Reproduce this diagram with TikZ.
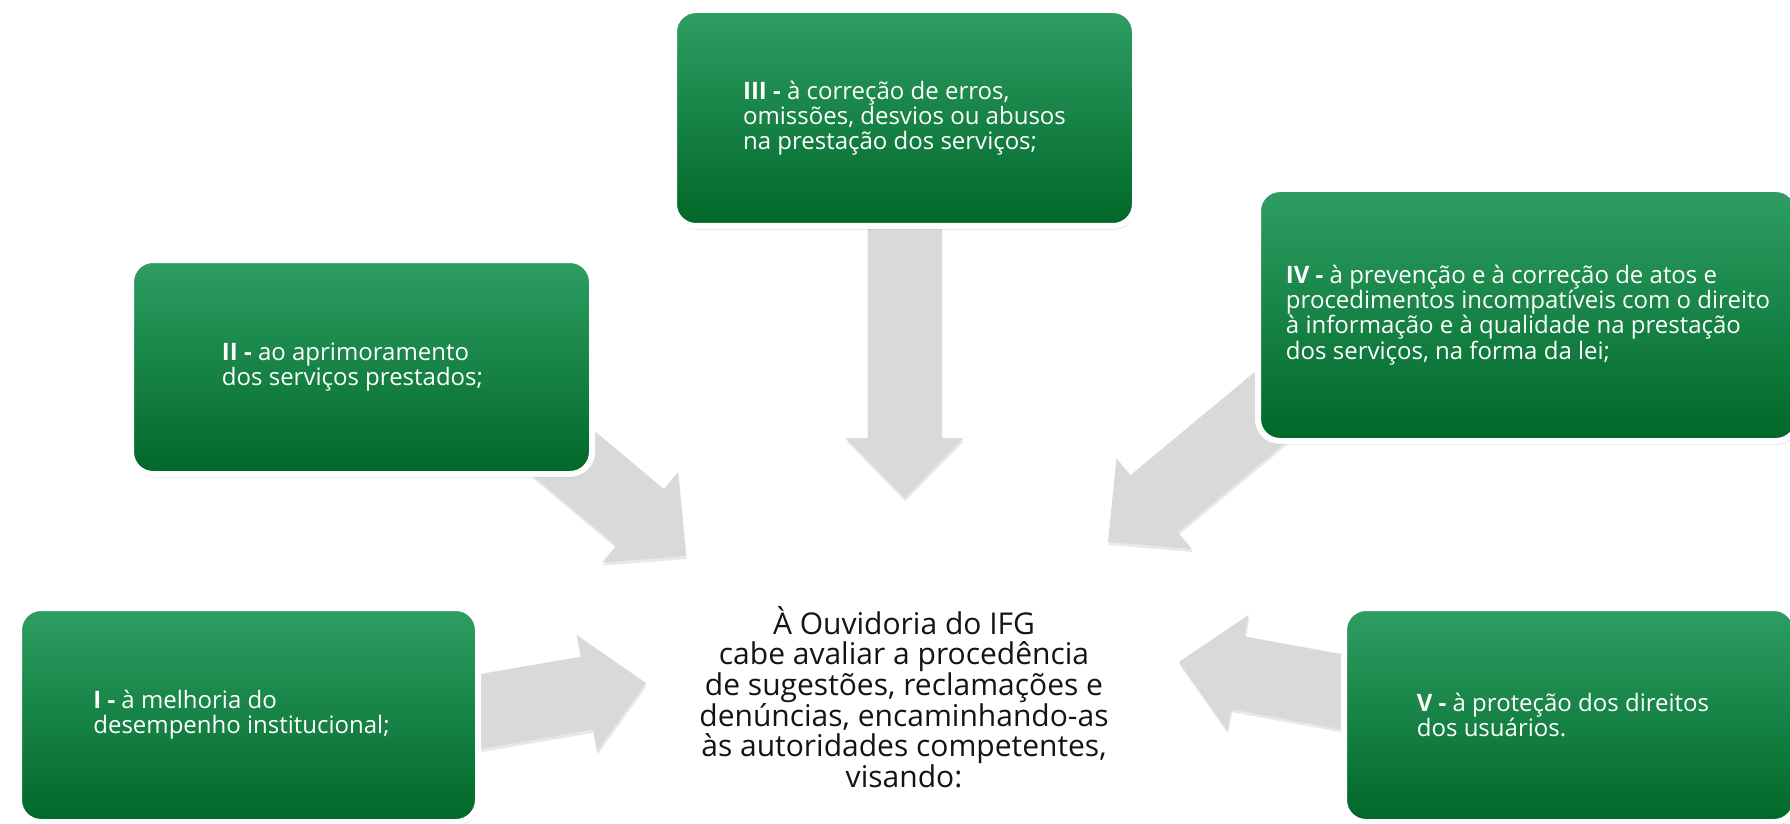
\documentclass[tikz,border=0pt]{standalone}
\usepackage{fontspec}
\setmainfont{Open Sans}
\usetikzlibrary{calc,shadows,backgrounds}
\definecolor{gtop}{RGB}{46, 158, 99}
\definecolor{gbot}{RGB}{0, 104, 40}
\definecolor{seta}{RGB}{217, 217, 217}
\definecolor{texto}{RGB}{20, 20, 20}

% seta larga: cauda (#1) -> ponta (#2)
\newcommand{\setagrande}[2]{%
  \fill[setablock] ($(#1)!18.5pt!90:(#2)$) -- ($(#2)!30pt!(#1)!18.5pt!90:(#2)$)
    -- ($(#2)!30pt!(#1)!29.5pt!90:(#2)$) -- (#2)
    -- ($(#2)!30pt!(#1)!29.5pt!-90:(#2)$) -- ($(#2)!30pt!(#1)!18.5pt!-90:(#2)$)
    -- ($(#1)!18.5pt!-90:(#2)$) -- cycle;}

\begin{document}
\begin{tikzpicture}[x=0.5pt, y=-0.5pt]
    \tikzstyle{gblock} = [rectangle, draw=white, line width=3pt, top color=gtop, bottom color=gbot,
    rounded corners=11pt, text=white, align=left, font=\fontsize{12}{12.6}\selectfont,
    drop shadow={opacity=0.25, shadow xshift=0.5pt, shadow yshift=-1.8pt}];
    \tikzstyle{setablock} = [fill=seta, drop shadow={opacity=0.18, shadow xshift=0.4pt, shadow yshift=-1.5pt}];
    \useasboundingbox (0,0) rectangle (1790,824);

    % centro
    \node [align=center, text=texto, font=\fontsize{15}{15.3}\selectfont] (ouv) at (904,697)
      {À Ouvidoria do IFG\\ cabe avaliar a procedência\\ de sugestões, reclamações e\\
       denúncias, encaminhando-as\\ às autoridades competentes,\\ visando:};

    % caixas
    \node [gblock, minimum width=230.5pt, minimum height=108pt] (III) at (904.5,118)
      {\textbf{III -} à correção de erros,\\ omissões, desvios ou abusos\\ na prestação dos serviços;};
    \node [gblock, minimum width=230.5pt, minimum height=107pt] (II) at (361.5,367)
      {\textbf{II -} ao aprimoramento\\ dos serviços prestados;\hspace*{9pt}};
    \node [gblock, minimum width=270pt, minimum height=126pt] (IV) at (1528,315)
      {\textbf{IV -} à prevenção e à correção de atos e\\ procedimentos incompatíveis com o direito\\
       à informação e à qualidade na prestação\\ dos serviços, na forma da lei;};
    \node [gblock, minimum width=229.5pt, minimum height=107pt] (I) at (248.5,715)
      {\textbf{I -} à melhoria do\\ desempenho institucional;\hspace*{7pt}};
    \node [gblock, minimum width=226pt, minimum height=107pt] (V) at (1570,715)
      {\textbf{V -} à proteção dos direitos\hspace*{7pt}\\ dos usuários.};

    % % Drawing the arrows
    \begin{pgfonlayer}{background}
      \coordinate (pIII) at (904.5,498);
      \coordinate (aII) at (456,363);   \coordinate (pII) at (686,556);
      \coordinate (aIV) at (1339,350);  \coordinate (pIV) at (1108,542);
      \coordinate (aI) at (350,734);    \coordinate (pI) at (646,683);
      \coordinate (aV) at (1474,716);   \coordinate (pV) at (1179,662);
      \setagrande{III}{pIII}
      \setagrande{aII}{pII}
      \setagrande{aIV}{pIV}
      \setagrande{aI}{pI}
      \setagrande{aV}{pV}
    \end{pgfonlayer}
\end{tikzpicture}
\end{document}
